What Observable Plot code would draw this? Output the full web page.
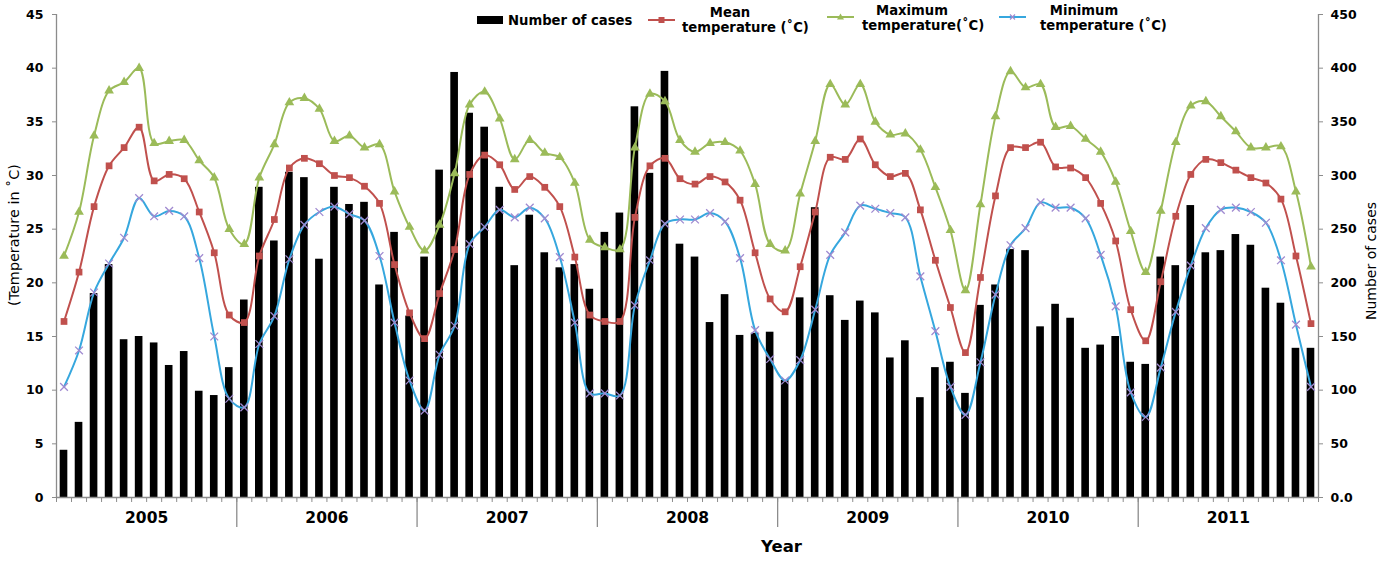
<!DOCTYPE html>
<html>
<head>
<meta charset="utf-8">
<script src="https://cdn.jsdelivr.net/npm/d3@7"></script>
<script src="https://cdn.jsdelivr.net/npm/@observablehq/plot@0.6"></script>
<style>
  body { margin: 0; background: #ffffff; }
  #wrap { position: relative; width: 1381px; height: 561px; font-family: "DejaVu Sans", sans-serif; overflow: hidden; }
  #legend .t { position: absolute; white-space: nowrap; font-weight: bold; font-size: 13.2px; line-height: 15px; color: #000; }
  #legend svg { position: absolute; overflow: visible; }
</style>
</head>
<body>
<div id="wrap">
  <div id="chart"></div>
  <div id="legend"></div>
</div>
<script>
// ---- data (monthly, Jan 2005 .. Dec 2011) ----
const years = ["2005", "2006", "2007", "2008", "2009", "2010", "2011"];

const cases = [
  44, 70, 190, 217, 147, 150, 144, 123, 136, 99, 95, 121,        // 2005
  184, 289, 239, 303, 298, 222, 289, 273, 275, 198, 247, 169,    // 2006
  224, 305, 396, 358, 345, 289, 216, 263, 228, 214, 217, 194,    // 2007
  247, 265, 364, 302, 397, 236, 224, 163, 189, 151, 153, 154,    // 2008
  109, 186, 270, 188, 165, 183, 172, 130, 146, 93, 121, 126,     // 2009
  97, 179, 198, 231, 230, 159, 180, 167, 139, 142, 150, 126,     // 2010
  124, 224, 216, 272, 228, 230, 245, 235, 195, 181, 139, 139     // 2011
];

const meanTemp = [
  16.4, 21.0, 27.1, 30.9, 32.6, 34.5, 29.5, 30.1, 29.7, 26.6, 22.8, 17.0,
  16.3, 22.5, 25.9, 30.7, 31.6, 31.1, 30.0, 29.8, 29.0, 27.4, 21.7, 17.2,
  14.8, 19.0, 23.1, 30.1, 31.9, 31.0, 28.7, 29.9, 28.9, 27.1, 22.4, 17.0,
  16.4, 16.4, 26.1, 30.9, 31.6, 29.7, 29.2, 29.9, 29.4, 27.7, 22.8, 18.5,
  17.3, 21.5, 26.6, 31.7, 31.5, 33.4, 31.0, 29.9, 30.2, 26.8, 22.1, 17.7,
  13.5, 20.5, 28.1, 32.6, 32.6, 33.1, 30.8, 30.7, 29.8, 27.4, 23.9, 17.5,
  14.6, 20.1, 26.2, 30.1, 31.5, 31.2, 30.5, 29.8, 29.3, 27.8, 22.5, 16.2
];

const maxTemp = [
  22.5, 26.6, 33.7, 37.9, 38.7, 40.0, 33.0, 33.2, 33.3, 31.4, 29.8, 25.0,
  23.6, 29.8, 32.9, 36.8, 37.2, 36.2, 33.2, 33.7, 32.6, 32.9, 28.5, 25.2,
  23.0, 25.4, 30.2, 36.6, 37.8, 35.3, 31.5, 33.3, 32.1, 31.7, 29.3, 24.0,
  23.3, 23.1, 32.6, 37.6, 36.9, 33.3, 32.2, 33.0, 33.1, 32.3, 29.2, 23.6,
  23.0, 28.3, 33.2, 38.5, 36.6, 38.5, 35.0, 33.8, 33.9, 32.4, 28.9, 24.9,
  19.3, 27.3, 35.5, 39.7, 38.2, 38.5, 34.5, 34.6, 33.4, 32.2, 29.4, 24.8,
  21.0, 26.7, 33.1, 36.5, 36.9, 35.5, 34.1, 32.6, 32.6, 32.7, 28.5, 21.5
];

const minTemp = [
  10.3, 13.7, 19.1, 21.8, 24.2, 27.9, 26.2, 26.7, 26.2, 22.3, 15.0, 9.2,
  8.4, 14.3, 16.9, 22.2, 25.4, 26.6, 27.1, 26.4, 25.8, 22.5, 16.3, 10.9,
  8.1, 13.3, 16.0, 23.6, 25.2, 26.8, 26.1, 27.0, 26.0, 22.4, 16.3, 9.7,
  9.7, 9.5, 17.9, 22.1, 25.5, 25.9, 25.9, 26.5, 25.7, 22.3, 15.6, 12.9,
  10.9, 12.8, 17.5, 22.6, 24.7, 27.2, 26.9, 26.5, 26.1, 20.6, 15.5, 10.3,
  7.7, 12.6, 18.9, 23.5, 25.1, 27.5, 27.0, 27.0, 26.0, 22.6, 17.8, 9.8,
  7.5, 12.1, 17.3, 21.6, 25.1, 26.8, 27.0, 26.6, 25.6, 22.1, 16.1, 10.3
];

const tempTicks = [0, 5, 10, 15, 20, 25, 30, 35, 40, 45];
const caseTicks = [0, 50, 100, 150, 200, 250, 300, 350, 400, 450];
const caseTickLabels = ["0.0", "50", "100", "150", "200", "250", "300", "350", "400", "450"];
const casesPerDegree = 10; // right axis 0..450 aligned to left axis 0..45

const seriesNames = ["Number of cases", "Mean temperature (˚C)", "Maximum temperature(˚C)", "Minimum temperature (˚C)"];

// ---- styles ----
const RED = "#C0504D", GREEN = "#9BBB59", BLUE = "#36A7DE", PURPLE = "#A08AD0", AXIS = "#8C8C8C";

const rows = cases.map((c, i) => ({i, cases: c, mean: meanTemp[i], max: maxTemp[i], min: minTemp[i]}));
const mid = d => d.i + 0.5;
const nMonths = cases.length;
const monthEdges = d3.range(0, nMonths + 1);
const yearEdges = d3.range(12, nMonths, 12);
const yearMids = years.map((y, k) => k * 12 + 6);

const chart = Plot.plot({
  width: 1381,
  height: 561,
  marginTop: 14,
  marginBottom: 64,
  marginLeft: 56,
  marginRight: 63,
  x: {type: "linear", domain: [0, nMonths], axis: null},
  y: {domain: [0, 45], axis: null},
  style: {fontFamily: "DejaVu Sans, sans-serif", background: "white", color: "black", overflow: "visible"},
  marks: [
    Plot.rect(rows, {x1: "i", x2: d => d.i + 1, y1: 0, y2: d => d.cases / casesPerDegree, fill: "black", insetLeft: 3.7, insetRight: 3.7}),
    Plot.line(rows, {x: mid, y: "mean", stroke: RED, strokeWidth: 2, curve: "catmull-rom"}),
    Plot.dot(rows, {x: mid, y: "mean", symbol: "square", fill: RED, r: 3.8}),
    Plot.line(rows, {x: mid, y: "max", stroke: GREEN, strokeWidth: 2, curve: "catmull-rom"}),
    Plot.dot(rows, {x: mid, y: "max", symbol: "triangle", fill: GREEN, r: 3.6}),
    Plot.line(rows, {x: mid, y: "min", stroke: BLUE, strokeWidth: 2, curve: "catmull-rom"}),
    Plot.dot(rows, {x: mid, y: "min", symbol: "times", stroke: PURPLE, strokeWidth: 1.3, r: 3.6}),
    Plot.ruleY([0], {stroke: AXIS, strokeWidth: 1.3}),
    Plot.ruleX([0, nMonths], {stroke: AXIS, strokeWidth: 1.3}),
    Plot.axisY(tempTicks, {anchor: "left", tickSize: 4, tickPadding: 9, stroke: AXIS, fill: "black", fontSize: 12.5, fontWeight: "bold", label: null}),
    Plot.axisY(caseTicks.map(c => c / casesPerDegree), {anchor: "right", tickSize: 4, tickPadding: 8, stroke: AXIS, fill: "black", fontSize: 12.5, fontWeight: "bold", label: null,
      tickFormat: d => caseTickLabels[caseTicks.indexOf(Math.round(d * casesPerDegree))]}),
    Plot.axisX(monthEdges, {anchor: "bottom", tickSize: 5, tickFormat: () => "", stroke: AXIS, label: null}),
    Plot.axisX(yearEdges, {anchor: "bottom", tickSize: 30, tickFormat: () => "", stroke: AXIS, strokeWidth: 1.3, label: null}),
    Plot.axisX(yearMids, {anchor: "bottom", tickSize: 0, tickPadding: 14, fill: "black", fontSize: 15.5, fontWeight: "bold", label: null,
      tickFormat: d => years[(d - 6) / 12]}),
    Plot.text(["Year"], {frameAnchor: "bottom", textAnchor: "middle", dx: 94, dy: 54, fontSize: 16.5, fontWeight: "bold", fill: "black"}),
    Plot.text(["(Temperature in ˚C)"], {frameAnchor: "left", textAnchor: "middle", rotate: -90, dx: -42, dy: -21, fontSize: 14.4, fill: "black"}),
    Plot.text(["Number of cases"], {frameAnchor: "right", textAnchor: "middle", rotate: -90, dx: 53, dy: 5, fontSize: 14, fill: "black"})
  ]
});
document.getElementById("chart").appendChild(chart);

// ---- legend (inside the top of the plot area) ----
const legend = document.getElementById("legend");
function addText(txt, x, cy, anchor) {
  const s = document.createElement("span");
  s.className = "t";
  s.textContent = txt;
  s.style.left = x + "px";
  s.style.top = (cy - 7.5) + "px";
  if (anchor === "middle") s.style.transform = "translateX(-50%)";
  legend.appendChild(s);
}
function addSwatch(x, cy, kind, color) {
  const ns = "http://www.w3.org/2000/svg";
  const svg = document.createElementNS(ns, "svg");
  svg.setAttribute("width", 28); svg.setAttribute("height", 12);
  svg.style.left = x + "px"; svg.style.top = (cy - 6) + "px";
  let inner = "";
  if (kind === "rect") inner = `<rect x="0" y="2" width="26" height="8" fill="${color}"/>`;
  else {
    inner = `<line x1="0" y1="6" x2="27" y2="6" stroke="${color}" stroke-width="2"/>`;
    if (kind === "square") inner += `<rect x="10.5" y="3" width="6" height="6" fill="${color}"/>`;
    if (kind === "triangle") inner += `<path d="M13.5,2.5 L17,8.5 L10,8.5 Z" fill="${color}"/>`;
    if (kind === "times") inner += `<path d="M11,3.5 L16,8.5 M16,3.5 L11,8.5" stroke="${PURPLE}" stroke-width="1.2"/>`;
  }
  svg.innerHTML = inner;
  legend.appendChild(svg);
}
addSwatch(477, 19.5, "rect", "black");
addText(seriesNames[0], 508, 20, "start");
addSwatch(648, 20, "square", RED);
addText("Mean", 730, 12.5, "middle");
addText("temperature (˚C)", 682, 27, "start");
addSwatch(827, 17, "triangle", GREEN);
addText("Maximum", 912, 10, "middle");
addText("temperature(˚C)", 862, 25, "start");
addSwatch(999, 17, "times", BLUE);
addText("Minimum", 1084, 10, "middle");
addText("temperature (˚C)", 1040, 25, "start");
</script>
</body>
</html>
